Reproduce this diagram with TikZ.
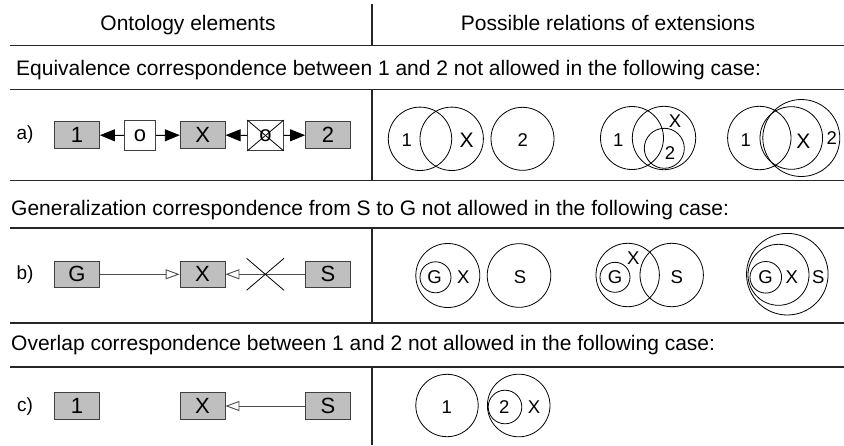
\documentclass[tikz,border=0pt]{standalone}
\usepackage{fontspec}
\setmainfont{Liberation Sans}
\usetikzlibrary{arrows.meta}
\begin{document}
\begin{tikzpicture}[x=1pt,y=-1pt,
  sep/.style={line width=1.7pt, draw=black!85},
  vsep/.style={line width=1.2pt, draw=black!85},
  titletext/.style={font=\fontsize{21}{25}\selectfont, inner sep=0pt},
  rowlbl/.style={font=\fontsize{19}{19}\selectfont, inner sep=0pt},
  gbox/.style={draw=black!75, line width=0.8pt, fill=black!25, minimum width=45pt, minimum height=26.5pt, inner sep=0pt, font=\fontsize{22}{22}\selectfont},
  wbox/.style={draw=black!75, line width=0.8pt, fill=white, minimum width=31.5pt, minimum height=30pt, inner sep=0pt, font=\fontsize{22}{22}\selectfont},
  circ/.style={line width=0.8pt, draw=black},
  clbl/.style={font=\fontsize{18.5}{18.5}\selectfont, inner sep=0pt},
  xlbl/.style={font=\fontsize{21}{21}\selectfont, inner sep=0pt},
  filledarrow/.style={line width=0.9pt, draw=black, -{Triangle[length=15pt,width=12pt]}},
  openarrow/.style={line width=0.9pt, draw=black!70, -{Triangle[open,fill=white,length=14pt,width=10pt]}},
  crossline/.style={line width=0.8pt, draw=black}
]
\useasboundingbox (0,0) rectangle (844,445);

% ---- separators
\draw[sep] (10,45.5) -- (844,45.5);
\draw[sep] (10,89.5) -- (844,89.5);
\draw[sep] (10,180.5) -- (844,180.5);
\draw[sep] (10,228.3) -- (844,228.3);
\draw[sep] (10,322.7) -- (844,322.7);
\draw[sep] (10,367) -- (844,367);
\draw[vsep] (372,4) -- (372,45.5);
\draw[vsep] (372,89.5) -- (372,180.5);
\draw[vsep] (372,228.3) -- (372,322.7);
\draw[vsep] (372,367) -- (372,445);

% ---- header & titles
\node[titletext, anchor=base] (h1) at (188,30) {Ontology elements};
\node[titletext, anchor=base] (h2) at (608,30) {Possible relations of extensions};
\node[titletext, anchor=base west] (t1) at (16,75.7) {Equivalence correspondence between 1 and 2 not allowed in the following case:};
\node[titletext, anchor=base west] (t2) at (11,215) {Generalization correspondence from S to G not allowed in the following case:};
\node[titletext, anchor=base west] (t3) at (11,350.7) {Overlap correspondence between 1 and 2 not allowed in the following case:};

% ---- row a
\node[rowlbl] (la) at (25,135) {a)};
\node[gbox] (a1) at (77,135) {1};
\node[wbox] (ao) at (140,135.5) {o};
\node[gbox] (aX) at (202.7,135) {X};
\node[wbox, minimum width=35.6pt] (ac) at (265.5,135.5) {o};
\draw[crossline] (ac.north west) -- (ac.south east);
\draw[crossline] (ac.south west) -- (ac.north east);
\node[gbox] (a2) at (328,135) {2};
\draw[filledarrow] (ao) -- (a1);
\draw[filledarrow] (ao) -- (aX);
\draw[filledarrow] (ac) -- (aX);
\draw[filledarrow] (ac) -- (a2);

% circles row a, group 1
\draw[circ] (420,138.8) circle[radius=31.7];
\draw[circ] (451.7,138.8) circle[radius=31.7];
\draw[circ] (522.5,138.8) circle[radius=31.5];
\node[clbl] (ca1) at (406.7,140) {1};
\node[xlbl] (caX) at (466.7,140) {X};
\node[clbl] (ca2) at (522.7,140) {2};
% group 2
\draw[circ] (632,138) circle[radius=31.5];
\draw[circ] (664,138) circle[radius=31.7];
\draw[circ] (664.3,148.3) circle[radius=20];
\node[clbl] (cb1) at (618.3,140) {1};
\node[clbl] (cbX) at (675,120.7) {X};
\node[clbl] (cb2) at (670,153.3) {2};
% group 3
\draw[circ] (759.3,138) circle[radius=31.7];
\draw[circ] (791.3,138) circle[radius=31.3];
\draw[circ] (801.3,138) circle[radius=38.5];
\node[clbl] (cc1) at (745.7,140) {1};
\node[xlbl] (ccX) at (803.3,141.7) {X};
\node[clbl] (cc2) at (831.7,138.3) {2};

% ---- row b
\node[rowlbl] (lb) at (25,275) {b)};
\node[gbox] (bG) at (77,274.3) {G};
\node[gbox] (bX) at (202.5,274.3) {X};
\node[gbox] (bS) at (328,274.3) {S};
\draw[openarrow] (bG) -- (bX);
\draw[openarrow] (bS) -- (bX);
\coordinate (bx) at (265.3,274.3);
\draw[crossline] ([shift={(-18.7,-16)}]bx) -- ([shift={(18.7,16)}]bx);
\draw[crossline] ([shift={(-18.7,16)}]bx) -- ([shift={(18.7,-16)}]bx);

% circles row b, group 1
\draw[circ] (447.8,275.5) circle[radius=32];
\draw[circ] (435.5,277.3) circle[radius=15.5];
\draw[circ] (519,275.5) circle[radius=31.8];
\node[clbl] (dG) at (434.5,277.3) {G};
\node[clbl] (dX) at (463.3,277.3) {X};
\node[clbl] (dS) at (520,277.3) {S};
% group 2
\draw[circ] (627.7,275) circle[radius=31.7];
\draw[circ] (615,277.3) circle[radius=15];
\draw[circ] (671.7,275) circle[radius=31.7];
\node[clbl] (eG) at (615,277.3) {G};
\node[clbl] (eX) at (633.3,258.3) {X};
\node[clbl] (eS) at (676.7,277.3) {S};
% group 3
\draw[circ] (787.3,274.2) circle[radius=40.8];
\draw[circ] (778.5,274.8) circle[radius=30.5];
\draw[circ] (765.8,277.3) circle[radius=15.8];
\node[clbl] (fG) at (765.5,277.3) {G};
\node[clbl] (fX) at (791.7,277.3) {X};
\node[clbl] (fS) at (818.3,277.3) {S};

% ---- row c
\node[rowlbl] (lc) at (25,406.5) {c)};
\node[gbox] (c1) at (77,406) {1};
\node[gbox] (cX) at (202.5,406) {X};
\node[gbox] (cS) at (328,406) {S};
\draw[openarrow] (cS) -- (cX);

% circles row c
\draw[circ] (447,405.5) circle[radius=31.2];
\draw[circ] (518.7,405.5) circle[radius=31.3];
\draw[circ] (505,407) circle[radius=16.8];
\node[clbl] (g1) at (446.7,407.3) {1};
\node[clbl] (g2) at (504.3,407.3) {2};
\node[clbl] (gX) at (534,407.3) {X};
\end{tikzpicture}
\end{document}
